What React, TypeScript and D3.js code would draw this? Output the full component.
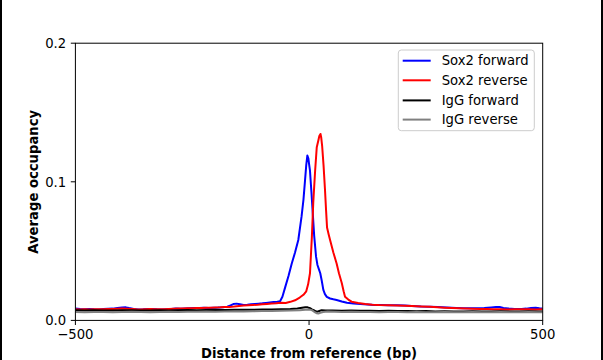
import React from "react";
import * as d3 from "d3";

const seriesNames = ["Sox2 forward", "Sox2 reverse", "IgG forward", "IgG reverse"];
const seriesColors = ["#0000ff", "#ff0000", "#000000", "#808080"];
const xTicks = [-500, 0, 500];
const yTicks = [0.0, 0.1, 0.2];

const sox2Forward: [number, number][] = [
  [-500,0.0086],[-490,0.0083],[-480,0.0081],[-470,0.0083],[-460,0.0080],[-450,0.0079],[-440,0.0082],[-430,0.0084],[-420,0.0085],[-410,0.0089],[-400,0.0093],[-392,0.0094],[-385,0.0089],[-375,0.0083],[-365,0.0079],[-355,0.0080],[-345,0.0083],[-335,0.0082],[-325,0.0080],[-315,0.0079],[-305,0.0081],[-295,0.0083],[-285,0.0085],[-275,0.0084],[-265,0.0086],[-255,0.0088],[-245,0.0090],[-235,0.0089],[-225,0.0091],[-215,0.0090],[-205,0.0092],[-195,0.0093],[-185,0.0095],[-175,0.0099],[-168,0.0108],[-162,0.0118],[-155,0.0121],[-148,0.0117],[-140,0.0111],[-132,0.0113],[-124,0.0116],[-116,0.0119],[-108,0.0121],[-100,0.0123],[-92,0.0126],[-84,0.0129],[-76,0.0132],[-68,0.0135],[-62,0.0138],[-57,0.0170],[-51,0.0240],[-44,0.0320],[-37,0.0410],[-30,0.0490],[-23,0.0580],[-16,0.0750],[-12,0.0870],[-8.6,0.1010],[-6,0.1120],[-3.6,0.1190],[-1.5,0.1170],[0,0.1130],[2,0.1080],[5,0.0930],[8,0.0770],[11,0.0610],[15,0.0460],[18,0.0400],[21,0.0370],[24,0.0340],[27,0.0290],[30.6,0.0220],[34,0.0190],[38,0.0170],[45,0.0158],[52,0.0152],[59,0.0147],[70,0.0137],[81,0.0128],[95,0.0122],[110,0.0118],[125,0.0115],[140,0.0112],[155,0.0111],[170,0.0110],[188,0.0109],[205,0.0107],[220,0.0104],[240,0.0100],[259,0.0098],[275,0.0096],[295,0.0093],[315,0.0090],[330,0.0088],[345,0.0087],[360,0.0088],[375,0.0090],[390,0.0094],[400,0.0097],[408,0.0096],[416,0.0090],[426,0.0086],[440,0.0083],[455,0.0082],[465,0.0085],[475,0.0089],[485,0.0091],[493,0.0088],[500,0.0086]
];

const sox2Reverse: [number, number][] = [
  [-500,0.0081],[-490,0.0079],[-480,0.0080],[-470,0.0078],[-460,0.0080],[-450,0.0081],[-440,0.0080],[-430,0.0082],[-420,0.0083],[-410,0.0084],[-400,0.0085],[-390,0.0084],[-380,0.0082],[-370,0.0080],[-360,0.0079],[-350,0.0081],[-340,0.0082],[-330,0.0081],[-320,0.0080],[-310,0.0081],[-300,0.0083],[-290,0.0084],[-280,0.0085],[-270,0.0086],[-260,0.0087],[-250,0.0088],[-240,0.0089],[-230,0.0090],[-220,0.0091],[-210,0.0092],[-200,0.0093],[-190,0.0094],[-180,0.0096],[-170,0.0097],[-160,0.0100],[-150,0.0104],[-140,0.0107],[-130,0.0109],[-120,0.0111],[-110,0.0113],[-100,0.0116],[-90,0.0119],[-80,0.0122],[-70,0.0124],[-60,0.0128],[-50,0.0126],[-40,0.0134],[-30,0.0145],[-20,0.0165],[-12,0.0185],[-6,0.0210],[-2,0.0260],[2,0.0340],[4,0.0470],[6,0.0600],[9,0.0850],[13,0.1080],[16.5,0.1250],[20,0.1300],[22,0.1330],[24.5,0.1345],[26,0.1320],[28,0.1260],[31,0.1120],[34,0.0950],[36.5,0.0790],[38.5,0.0670],[42,0.0620],[45,0.0580],[52,0.0490],[59,0.0410],[64,0.0340],[70,0.0270],[74,0.0210],[77,0.0170],[84,0.0150],[91,0.0135],[105,0.0126],[120,0.0118],[135,0.0113],[150,0.0111],[170,0.0110],[188,0.0108],[205,0.0106],[220,0.0104],[240,0.0101],[259,0.0098],[275,0.0095],[290,0.0092],[305,0.0089],[320,0.0087],[335,0.0086],[350,0.0084],[365,0.0083],[380,0.0082],[395,0.0081],[410,0.0080],[425,0.0079],[440,0.0080],[455,0.0081],[470,0.0080],[485,0.0079],[500,0.0080]
];

const igGForward: [number, number][] = [
  [-500,0.0074],[-480,0.0072],[-460,0.0073],[-440,0.0071],[-420,0.0072],[-400,0.0074],[-380,0.0073],[-360,0.0071],[-340,0.0072],[-320,0.0073],[-300,0.0072],[-280,0.0074],[-260,0.0075],[-240,0.0074],[-220,0.0075],[-200,0.0076],[-180,0.0075],[-160,0.0076],[-140,0.0077],[-120,0.0076],[-100,0.0078],[-80,0.0079],[-60,0.0080],[-40,0.0082],[-25,0.0086],[-15,0.0091],[-8,0.0095],[-3,0.0094],[2,0.0088],[6,0.0079],[10,0.0074],[14,0.0066],[18,0.0063],[22,0.0068],[27,0.0074],[35,0.0072],[50,0.0071],[70,0.0070],[90,0.0071],[110,0.0069],[130,0.0070],[150,0.0068],[170,0.0069],[190,0.0067],[210,0.0068],[230,0.0066],[250,0.0067],[270,0.0065],[290,0.0066],[310,0.0064],[330,0.0065],[350,0.0066],[370,0.0064],[390,0.0065],[410,0.0066],[430,0.0064],[450,0.0065],[470,0.0066],[490,0.0064],[500,0.0065]
];

const igGReverse: [number, number][] = [
  [-500,0.0060],[-480,0.0058],[-460,0.0060],[-440,0.0061],[-420,0.0059],[-400,0.0060],[-380,0.0062],[-360,0.0060],[-340,0.0059],[-320,0.0061],[-300,0.0062],[-280,0.0061],[-260,0.0063],[-240,0.0062],[-220,0.0064],[-200,0.0063],[-180,0.0064],[-160,0.0065],[-140,0.0064],[-120,0.0066],[-100,0.0067],[-80,0.0068],[-60,0.0069],[-40,0.0071],[-20,0.0074],[-8,0.0077],[0,0.0078],[6,0.0074],[11,0.0062],[16,0.0052],[20,0.0050],[24,0.0055],[30,0.0061],[40,0.0064],[55,0.0062],[70,0.0061],[90,0.0062],[110,0.0060],[130,0.0061],[150,0.0059],[170,0.0060],[190,0.0061],[210,0.0059],[230,0.0060],[250,0.0058],[270,0.0059],[290,0.0060],[310,0.0058],[330,0.0059],[350,0.0060],[370,0.0058],[390,0.0059],[410,0.0060],[430,0.0058],[450,0.0059],[470,0.0060],[490,0.0058],[500,0.0059]
];

const allSeries = [sox2Forward, sox2Reverse, igGForward, igGReverse];

const W = 603;
const H = 360;
const L = 75.4, R = 542.7, T = 43.2, B = 320.4;
const FONT = "'DejaVu Sans', sans-serif";
const FS = 13.2;

export default function App() {
  const x = d3.scaleLinear().domain([-500, 500]).range([L, R]);
  const y = d3.scaleLinear().domain([0, 0.2]).range([B, T]);
  const line = d3.line<[number, number]>().x(d => x(d[0])).y(d => y(d[1]));
  const fx = d3.format("d");
  const fy = d3.format(".1f");
  const tick = 4.6;

  const legX = 398.3, legY = 50, legW = 136, legH = 80.7;
  const rowY = [60.7, 80.3, 100.4, 119.6];

  return (
    <svg width={W} height={H} style={{ position: "absolute", left: 0, top: 0, background: "#fff" }}
      fontFamily={FONT}>
      <rect x={0} y={0} width={W} height={H} fill="#fff" />
      <defs>
        <clipPath id="plotclip">
          <rect x={L} y={T} width={R - L} height={B - T} />
        </clipPath>
      </defs>
      <g clipPath="url(#plotclip)">
        {allSeries.map((s, i) => (
          <path key={i} d={line(s) || ""} fill="none" stroke={seriesColors[i]}
            strokeWidth={2} strokeLinejoin="round" strokeLinecap="butt" />
        ))}
      </g>
      <rect x={L} y={T} width={R - L} height={B - T} fill="none" stroke="#000" strokeWidth={1} />
      {xTicks.map(t => (
        <g key={t}>
          <line x1={x(t)} x2={x(t)} y1={B} y2={B + tick} stroke="#000" strokeWidth={1} />
          <text x={x(t)} y={338.6} textAnchor="middle" fontSize={FS} fill="#000">{fx(t)}</text>
        </g>
      ))}
      {yTicks.map(t => (
        <g key={t}>
          <line x1={L - tick} x2={L} y1={y(t)} y2={y(t)} stroke="#000" strokeWidth={1} />
          <text x={L - tick - 4.6} y={y(t)} dy="0.36em" textAnchor="end" fontSize={FS} fill="#000">{fy(t)}</text>
        </g>
      ))}
      <text x={(L + R) / 2} y={358} textAnchor="middle" fontSize={FS} fontWeight="bold" fill="#000">
        Distance from reference (bp)
      </text>
      <text transform={`translate(${38},${(T + B) / 2}) rotate(-90)`} textAnchor="middle"
        fontSize={FS} fontWeight="bold" fill="#000">Average occupancy</text>
      <rect x={legX} y={legY} width={legW} height={legH} rx={3} ry={3}
        fill="#fff" fillOpacity={0.8} stroke="#cccccc" strokeWidth={1} />
      {seriesNames.map((n, i) => (
        <g key={n}>
          <line x1={402.7} x2={430.7} y1={rowY[i]} y2={rowY[i]} stroke={seriesColors[i]} strokeWidth={2} />
          <text x={441.7} y={rowY[i]} dy="0.36em" fontSize={FS} fill="#000">{n}</text>
        </g>
      ))}
      <line x1={1} x2={1} y1={0} y2={H} stroke="#000" strokeWidth={2} />
      <line x1={602} x2={602} y1={0} y2={H} stroke="#000" strokeWidth={2} />
    </svg>
  );
}
